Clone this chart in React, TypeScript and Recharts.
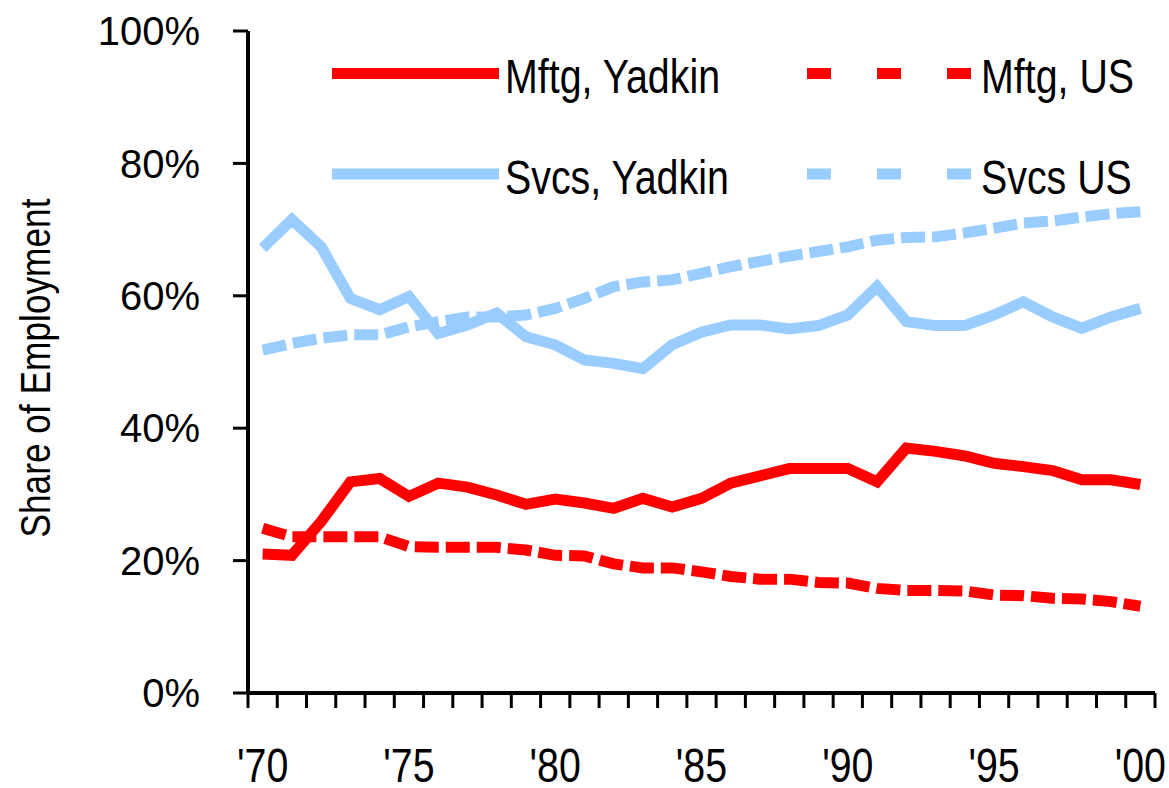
import { LineChart, Line, XAxis, YAxis, Legend, Label } from "recharts";

const YEARS = [
  1970, 1971, 1972, 1973, 1974, 1975, 1976, 1977, 1978, 1979,
  1980, 1981, 1982, 1983, 1984, 1985, 1986, 1987, 1988, 1989,
  1990, 1991, 1992, 1993, 1994, 1995, 1996, 1997, 1998, 1999, 2000,
];
const MFTG_YADKIN = [
  21.0, 20.8, 25.9, 31.9, 32.4, 29.7, 31.7, 31.1, 29.9, 28.5,
  29.3, 28.7, 27.9, 29.4, 28.1, 29.4, 31.7, 32.8, 33.9, 33.9,
  33.9, 31.9, 37.0, 36.5, 35.8, 34.7, 34.2, 33.6, 32.2, 32.2, 31.5,
];
const MFTG_US = [
  24.9, 23.6, 23.6, 23.6, 23.6, 22.1, 22.0, 22.0, 22.0, 21.6,
  20.8, 20.7, 19.5, 18.9, 18.9, 18.3, 17.6, 17.2, 17.2, 16.7,
  16.6, 15.8, 15.5, 15.5, 15.4, 14.8, 14.7, 14.3, 14.2, 13.8, 13.1,
];
const SVCS_YADKIN = [
  67.2, 71.5, 67.4, 59.6, 57.9, 59.9, 54.3, 55.6, 57.4, 53.8,
  52.6, 50.3, 49.8, 49.0, 52.6, 54.5, 55.6, 55.6, 55.0, 55.5,
  57.1, 61.4, 56.1, 55.5, 55.5, 57.1, 59.1, 56.8, 55.1, 56.8, 58.1,
];
const SVCS_US = [
  51.8, 52.8, 53.6, 54.1, 54.1, 55.3, 56.1, 56.8, 56.8, 57.1,
  58.1, 59.6, 61.4, 62.1, 62.4, 63.4, 64.4, 65.2, 66.0, 66.7,
  67.4, 68.4, 68.8, 68.9, 69.5, 70.2, 71.0, 71.3, 71.9, 72.4, 72.7,
];
const LABEL_YEARS = [1970, 1975, 1980, 1985, 1990, 1995, 2000];
const YEAR_LABELS = ["'70", "'75", "'80", "'85", "'90", "'95", "'00"];
const Y_TICKS = [0, 20, 40, 60, 80, 100];

const RED = "#ff0000";
const BLUE = "#99ccff";
const FONT = "'Liberation Sans', Arial, sans-serif";
const SQUEEZE = 0.82; // no narrow face installed, so squeeze the regular one

const SERIES = [
  { key: "mftgY", name: "Mftg, Yadkin", values: MFTG_YADKIN, color: RED, dashed: false },
  { key: "mftgU", name: "Mftg, US", values: MFTG_US, color: RED, dashed: true },
  { key: "svcsY", name: "Svcs, Yadkin", values: SVCS_YADKIN, color: BLUE, dashed: false },
  { key: "svcsU", name: "Svcs US", values: SVCS_US, color: BLUE, dashed: true },
];

const data = YEARS.map((y, i) => {
  const row: Record<string, number> = { year: y };
  SERIES.forEach(s => { row[s.key] = s.values[i]; });
  return row;
});

// category edges: ticks sit between the years, labels on the years
const EDGES = [...YEARS.map(y => y - 0.5), YEARS[YEARS.length - 1] + 0.5];
const DOMAIN: [number, number] = [EDGES[0], EDGES[EDGES.length - 1]];

function Narrow({ x, y, size, anchor = "start", rotate = 0, children }: {
  x: number; y: number; size: number; anchor?: string; rotate?: number; children: string;
}) {
  return (
    <text transform={`translate(${x} ${y}) rotate(${rotate}) scale(${SQUEEZE} 1)`}
      textAnchor={anchor} fontFamily={FONT} fontSize={size} fill="#000">
      {children}
    </text>
  );
}

function YearTick(p: any) {
  const i = LABEL_YEARS.indexOf(p.payload.value);
  if (i < 0) return <g />;
  return <Narrow x={p.x} y={p.y + 34} size={48} anchor="middle">{YEAR_LABELS[i]}</Narrow>;
}

function LegendBox() {
  return (
    <svg width={1169} height={220} style={{ display: "block" }}>
      {SERIES.map((s, i) => {
        const col = i % 2, row = Math.floor(i / 2);
        const x0 = col ? 807 : 332, x1 = col ? 971 : 499;
        const ly = row ? 174 : 73.5;
        return (
          <g key={s.key}>
            <line x1={x0} x2={x1} y1={ly} y2={ly} stroke={s.color} strokeWidth={11}
              strokeDasharray={s.dashed ? "24 46" : undefined} />
            <Narrow x={col ? 981 : 505} y={ly + 19.5} size={48}>{s.name}</Narrow>
          </g>
        );
      })}
    </svg>
  );
}

export default function App() {
  return (
    <div style={{ position: "absolute", left: 0, top: 0 }}>
      <LineChart width={1169} height={788} data={data}
        margin={{ top: 31, right: 14, bottom: 0, left: 0 }}>
        <XAxis dataKey="year" type="number" domain={DOMAIN} ticks={EDGES} interval={0}
          allowDataOverflow height={15} tick={() => <g />} tickSize={15}
          axisLine={{ stroke: "#000", strokeWidth: 4 }}
          tickLine={{ stroke: "#000", strokeWidth: 3 }} />
        <XAxis xAxisId="lbl" dataKey="year" type="number" domain={DOMAIN} ticks={LABEL_YEARS}
          interval={0} allowDataOverflow height={80} axisLine={false} tickLine={false}
          tickSize={0} tickMargin={40} tick={YearTick} />
        <YAxis type="number" domain={[0, 100]} ticks={Y_TICKS} interval={0} width={248}
          tickSize={15} tickMargin={33}
          tickFormatter={(v: number) => `${v}%`}
          tick={{ fill: "#000", fontSize: 40, fontFamily: FONT }}
          axisLine={{ stroke: "#000", strokeWidth: 4 }}
          tickLine={{ stroke: "#000", strokeWidth: 3 }}>
          <Label content={() => (
            <Narrow x={50} y={368} rotate={-90} size={43} anchor="middle">Share of Employment</Narrow>
          )} />
        </YAxis>
        <Legend layout="horizontal" verticalAlign="middle"
          wrapperStyle={{ left: 0, top: 0, width: 1169, height: 220 }}
          content={() => <LegendBox />} />
        {SERIES.map(s => (
          <Line key={s.key} dataKey={s.key} name={s.name} type="linear" stroke={s.color}
            strokeWidth={11} strokeDasharray={s.dashed ? "24 7" : undefined}
            dot={false} activeDot={false} isAnimationActive={false} />
        ))}
      </LineChart>
    </div>
  );
}
